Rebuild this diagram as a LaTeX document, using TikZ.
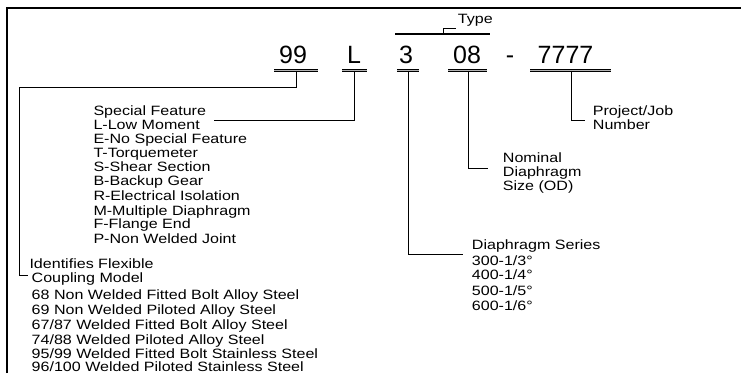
\documentclass[tikz,border=0pt]{standalone}
\usepackage{fontspec}
\setmainfont{Liberation Sans}
\newfontfamily\lblfont{Liberation Sans}[FakeStretch=1.19]
\begin{document}
\begin{tikzpicture}[x=1pt,y=-1pt,
  code/.style={font=\fontsize{25}{25}\selectfont, inner sep=0pt, anchor=base},
  lbl/.style={font=\lblfont\fontsize{13.5}{14}\selectfont, inner sep=0pt, anchor=base west},
  uline/.style={draw=black, line width=0.9pt, double=gray!60, double distance=1.5pt},
  conn/.style={line width=0.9pt},
  frame/.style={line width=1.8pt}]
\useasboundingbox (0,0) rectangle (741,373);
% frame (top and left only)
\draw[frame] (7,373) -- (7,8) -- (741,8);

% code characters
\node[code] (c99) at (293,63) {99};
\node[code] (cL)  at (354,63) {L};
\node[code] (c3)  at (406,63) {3};
\node[code] (c08) at (467,63) {08};
\node[code] (cdash) at (510,63) {-};
\node[code] (c7)  at (565.5,63) {7777};

% underlines
\coordinate (u99) at (296,72);
\coordinate (uL)  at (354,72);
\coordinate (u3)  at (408,72);
\coordinate (u08) at (468,72);
\coordinate (u7)  at (571,72);
\draw[uline] (274,70.7) -- (318,70.7);
\draw[uline] (342,70.7) -- (367,70.7);
\draw[uline] (397,70.7) -- (419,70.7);
\draw[uline] (448,70.7) -- (487,70.7);
\draw[uline] (530,70.7) -- (611,70.7);

% Type
\coordinate (tb) at (443,34);
\draw[line width=1.8pt] (395,34) -- (490,34);
\node[lbl] (type) at (457.7,23.5) {Type};
\draw[conn] (tb) |- ([xshift=-1.5pt,yshift=-4.5pt]type.base west);

% Special feature block
\node[lbl] (sf) at (93.3,115) {Special Feature};
\node[lbl] (sf1) at (93.3,129) {L-Low Moment};
\node[lbl] (sf2) at (93.3,143.3) {E-No Special Feature};
\node[lbl] (sf3) at (93.3,157) {T-Torquemeter};
\node[lbl] (sf4) at (93.3,171.5) {S-Shear Section};
\node[lbl] (sf5) at (93.3,185) {B-Backup Gear};
\node[lbl] (sf6) at (93.3,200) {R-Electrical Isolation};
\node[lbl] (sf7) at (93.3,215.5) {M-Multiple Diaphragm};
\node[lbl] (sf8) at (93.3,228.3) {F-Flange End};
\node[lbl] (sf9) at (93.3,243.3) {P-Non Welded Joint};
\draw[conn] (uL) |- ([xshift=8pt,yshift=-5pt]sf.base east);

% Identifies block
\coordinate (k1) at (19,87);
\node[lbl] (id) at (29.3,268) {Identifies Flexible};
\node[lbl] (id1) at (31.5,282.5) {Coupling Model};
\node[lbl] (id2) at (31.5,299.5) {68 Non Welded Fitted Bolt Alloy Steel};
\node[lbl] (id3) at (31.5,314) {69 Non Welded Piloted Alloy Steel};
\node[lbl] (id4) at (31.5,329) {67/87 Welded Fitted Bolt Alloy Steel};
\node[lbl] (id5) at (31.5,344.5) {74/88 Welded Piloted Alloy Steel};
\node[lbl] (id6) at (31.5,358) {95/99 Welded Fitted Bolt Stainless Steel};
\node[lbl] (id7) at (31.5,371.3) {96/100 Welded Piloted Stainless Steel};
\draw[conn] (u99) |- (k1) |- ([xshift=-1.5pt,yshift=-7pt]id.base west);

% Diaphragm series
\node[lbl] (ds) at (471.7,249.5) {Diaphragm Series};
\node[lbl] (ds1) at (471.7,265) {300-1/3°};
\node[lbl] (ds2) at (471.7,279.5) {400-1/4°};
\node[lbl] (ds3) at (471.7,295) {500-1/5°};
\node[lbl] (ds4) at (471.7,310) {600-1/6°};
\draw[conn] (u3) |- ([xshift=-9pt,yshift=-4.5pt]ds.base west);

% Nominal
\node[lbl] (nom) at (502.7,162) {Nominal};
\node[lbl] (nom1) at (502.7,176.5) {Diaphragm};
\node[lbl] (nom2) at (502.7,190) {Size (OD)};
\draw[conn] (u08) |- ([xshift=-15pt,yshift=-6pt]nom.base west);

% Project
\node[lbl] (pj) at (592.7,115) {Project/Job};
\node[lbl] (pj1) at (592.7,129) {Number};
\draw[conn] (u7) |- ([xshift=-8pt,yshift=-5pt]pj.base west);
\end{tikzpicture}
\end{document}
